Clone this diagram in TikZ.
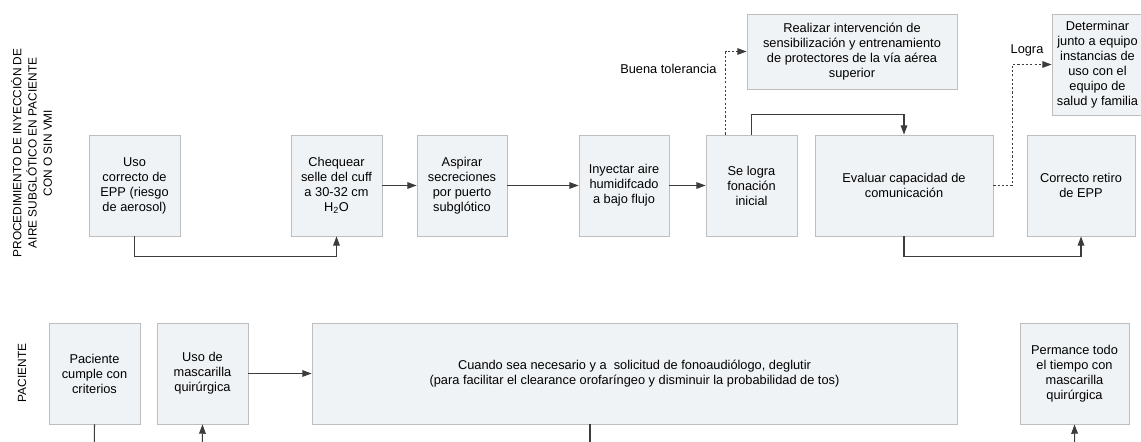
\documentclass[tikz,border=0pt]{standalone}
\usepackage{fontspec}
\setmainfont{Liberation Sans}
\usepackage{tikz}
\usetikzlibrary{arrows.meta,calc}
\definecolor{boxfill}{RGB}{240,243,245}
\definecolor{boxline}{RGB}{190,190,190}
\definecolor{wire}{RGB}{60,60,60}

\begin{document}
\begin{tikzpicture}[x=0.75pt, y=-0.75pt, >={Triangle[length=7pt,width=5pt]},
    box/.style={draw=boxline, fill=boxfill, line width=0.6pt, align=center, inner sep=1pt,
      minimum height=#1*0.75pt, font=\fontsize{9.6}{11.25}\selectfont},
    box/.default=101,
    lbl/.style={font=\fontsize{9.6}{11.25}\selectfont, inner sep=1pt},
    lane/.style={rotate=90, align=center, font=\fontsize{8.9}{11.5}\selectfont},
    wire/.style={draw=wire, line width=0.8pt},
    dots/.style={dash pattern=on 1.6pt off 1.6pt}]
\useasboundingbox (0,0) rectangle (1141,442);
% swimlane titles
\node[lane] (lanea) at (31.5,153) {PROCEDIMIENTO DE INYECCIÓN DE\\AIRE SUBGLÓTICO EN PACIENTE\\CON O SIN VMI};
\node[lane] (laneb) at (22,373) {PACIENTE};
% procedure row
\node[box, minimum width=91*0.75pt] (uso) at (134.5,185.5) {Uso\\correcto de\\EPP (riesgo\\de aerosol)};
\node[box, minimum width=91*0.75pt] (cheq) at (336.5,185.5) {Chequear\\selle del cuff\\a 30-32 cm\\H\textsubscript{2}O};
\node[box, minimum width=90*0.75pt] (asp) at (462,185.5) {Aspirar\\secreciones\\por puerto\\subglótico};
\node[box, minimum width=90*0.75pt] (iny) at (624,185.5) {Inyectar aire\\humidifcado\\a bajo flujo};
\node[box, minimum width=91*0.75pt] (selog) at (751.5,185.5) {Se logra\\fonación\\inicial};
\node[box, minimum width=178*0.75pt] (eval) at (904,185.5) {Evaluar capacidad de\\comunicación};
\node[box, minimum width=108*0.75pt] (correc) at (1081,185.5) {Correcto retiro\\de EPP};
\node[box=75, minimum width=210*0.75pt] (realiz) at (852,51.5) {Realizar intervención de\\sensibilización y entrenamiento\\de protectores de la vía aérea\\superior};
\node[box, minimum width=91*0.75pt] (determ) at (1097.5,64.5) {Determinar\\junto a equipo\\instancias de\\uso con el\\equipo de\\salud y familia};
% patient row
\node[box, minimum width=91*0.75pt] (pac) at (94.5,373.5) {Paciente\\cumple con\\criterios};
\node[box, minimum width=91*0.75pt] (masc) at (202.5,373.5) {Uso de\\mascarilla\\quirúrgica};
\node[box, minimum width=645*0.75pt] (cuando) at (634.5,373.5) {Cuando sea necesario y a\ \ solicitud de fonoaudiólogo, deglutir\\(para facilitar el clearance orofaríngeo y disminuir la probabilidad de tos)};
\node[box, minimum width=109*0.75pt] (perm) at (1074.5,373.5) {Permance todo\\el tiempo con\\mascarilla\\quirúrgica};
% edge labels
\node[lbl, anchor=east] (buena) at (718,69) {Buena tolerancia};
\node[lbl] (logra) at (1027,50) {Logra};
% loose ends below the page
\coordinate (pacout) at (94,470);
\coordinate (mascin) at (202,470);
\coordinate (cuandoout) at (590,470);
\coordinate (permin) at (1075,470);
% connectors
\draw[wire, ->] (uso.south) -- ++(0,20) -| (cheq.south);
\draw[wire, ->] (cheq) -- (asp);
\draw[wire, ->] (asp) -- (iny);
\draw[wire, ->] (iny) -- (selog);
\draw[wire, ->, dots] ([xshift=-19.5pt]selog.north) |- (realiz.west);
\draw[wire, ->] (selog.north) -- ++(0,-20) -| (eval.north);
\draw[wire, ->, dots] (eval.east) -- ++(19,0) |- (determ.west);
\draw[wire, ->] (eval.south) -- ++(0,20) -| (correc.south);
\draw[wire, ->] (masc) -- (cuando);
\draw[wire] (pac.south) -- (pacout);
\draw[wire, ->] (mascin) -- (masc.south);
\draw[wire] (cuando.south -| cuandoout) -- (cuandoout);
\draw[wire, ->] (permin) -- (perm.south);
\end{tikzpicture}
\end{document}
